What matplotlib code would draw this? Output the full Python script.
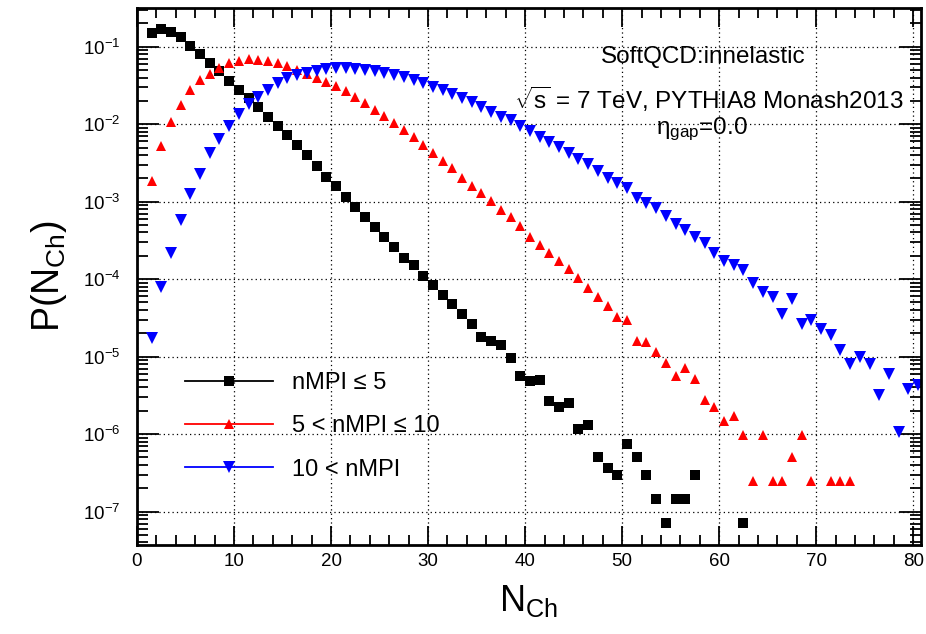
import numpy as np
import matplotlib
matplotlib.use('Agg')
import matplotlib.pyplot as plt
from matplotlib.lines import Line2D
from matplotlib.ticker import LogLocator, MultipleLocator, NullFormatter

plt.rcParams['font.family'] = ['Liberation Sans', 'DejaVu Sans']
plt.rcParams['mathtext.fontset'] = 'custom'
plt.rcParams['mathtext.rm'] = 'Liberation Sans'
plt.rcParams['mathtext.it'] = 'Liberation Sans:italic'
plt.rcParams['mathtext.sf'] = 'Liberation Sans'

## data: P(N_Ch) per bin (bin centres at N+0.5)
low_n = np.concatenate([np.arange(1, 58), [62]]) + 0.5
low_p = [0.149, 0.168, 0.156, 0.132, 0.102, 0.080, 0.061, 0.048, 0.036, 0.028,
         0.022, 0.0165, 0.0125, 0.0095, 0.0073, 0.0054, 0.0040, 0.0029, 0.0021, 0.00159,
         0.00115, 0.00085, 0.00063, 0.00047, 0.00035, 0.00026, 0.00019, 1.5e-4, 1.1e-4, 8.5e-5,
         6.3e-5, 4.8e-5, 3.6e-5, 2.6e-5, 1.8e-5, 1.6e-5, 1.4e-5, 9.6e-6, 5.6e-6, 4.8e-6,
         5.0e-6, 2.7e-6, 2.25e-6, 2.55e-6, 1.15e-6, 1.3e-6, 5.1e-7, 3.7e-7, 3.0e-7, 7.4e-7,
         5.1e-7, 3.0e-7, 1.45e-7, 7.2e-8, 1.45e-7, 1.45e-7, 3.0e-7,
         7.2e-8]

mid_n = np.concatenate([np.arange(1, 70), [71, 72, 73]]) + 0.5
mid_p = [1.86e-3, 5.2e-3, 0.0107, 0.0177, 0.0276, 0.037, 0.045, 0.053, 0.062, 0.065,
         0.069, 0.067, 0.065, 0.061, 0.056, 0.050, 0.044, 0.040, 0.0354, 0.031,
         0.027, 0.0223, 0.0187, 0.0153, 0.0128, 0.0105, 8.4e-3, 6.8e-3, 5.4e-3, 4.3e-3,
         3.37e-3, 2.7e-3, 2.05e-3, 1.58e-3, 1.28e-3, 1.02e-3, 7.9e-4, 6.3e-4, 4.8e-4, 3.55e-4,
         2.77e-4, 2.15e-4, 1.73e-4, 1.34e-4, 1.02e-4, 7.6e-5, 5.9e-5, 4.45e-5, 3.2e-5, 2.95e-5,
         1.6e-5, 1.55e-5, 1.15e-5, 8.2e-6, 5.7e-6, 7.2e-6, 5.2e-6, 2.74e-6, 2.24e-6, 1.48e-6,
         1.73e-6, 9.8e-7, 2.5e-7, 9.8e-7, 2.5e-7, 2.5e-7, 5.0e-7, 9.8e-7, 2.5e-7,
         2.5e-7, 2.5e-7, 2.5e-7]

high_n = np.arange(1, 81) + 0.5
high_p = [1.74e-5, 7.9e-5, 2.15e-4, 5.8e-4, 1.25e-3, 2.3e-3, 4.2e-3, 6.4e-3, 9.5e-3, 0.0136,
          0.018, 0.0227, 0.028, 0.0337, 0.039, 0.043, 0.0455, 0.0487, 0.051, 0.0527,
          0.0527, 0.0516, 0.050, 0.048, 0.046, 0.043, 0.0402, 0.037, 0.0337, 0.0305,
          0.0277, 0.0243, 0.022, 0.0195, 0.0168, 0.0145, 0.0125, 0.0114, 9.5e-3, 8.2e-3,
          6.9e-3, 5.9e-3, 5.1e-3, 4.2e-3, 3.6e-3, 3.1e-3, 2.47e-3, 2.0e-3, 1.73e-3, 1.49e-3,
          1.1e-3, 9.5e-4, 8.2e-4, 6.5e-4, 5.1e-4, 4.3e-4, 3.55e-4, 2.9e-4, 2.15e-4, 1.7e-4,
          1.52e-4, 1.31e-4, 9.0e-5, 6.9e-5, 5.9e-5, 3.6e-5, 5.5e-5, 2.6e-5, 3.0e-5, 2.3e-5,
          1.9e-5, 1.23e-5, 8.1e-6, 1.0e-5, 8.1e-6, 3.2e-6, 6.0e-6, 1.07e-6, 3.8e-6, 4.3e-6]

labels = ['nMPI ≤ 5', '5 < nMPI ≤ 10', '10 < nMPI']
colors = ['black', 'red', 'blue']
markers = ['s', '^', 'v']
msizes = [7.3, 7.8, 8.2]

fig = plt.figure(figsize=(9.26, 6.34), dpi=100)
ax = fig.add_axes([137/926, 1 - 545/634, (921 - 137)/926, (545 - 8)/634])

for xs, ys, c, m, s in zip([low_n, mid_n, high_n], [low_p, mid_p, high_p], colors, markers, msizes):
    ax.plot(xs, ys, linestyle='none', marker=m, color=c, markersize=s, markeredgewidth=0)

ax.set_yscale('log')
ax.set_xlim(0, 80.8)
ax.set_ylim(3.7e-8, 0.316)

ax.xaxis.set_major_locator(MultipleLocator(10))
ax.xaxis.set_minor_locator(MultipleLocator(2))
ax.yaxis.set_major_locator(LogLocator(base=10, numticks=20))
ax.yaxis.set_minor_locator(LogLocator(base=10, subs=np.arange(2, 10), numticks=20))
ax.yaxis.set_minor_formatter(NullFormatter())

ax.tick_params(which='both', direction='in', top=True, right=True, width=1.3, labelsize=13.5)
ax.tick_params(axis='x', which='major', length=14, pad=6)
ax.tick_params(axis='x', which='minor', length=7)
ax.tick_params(axis='y', which='major', length=16, pad=12)
ax.tick_params(axis='y', which='minor', length=8)
for sp in ax.spines.values():
    sp.set_linewidth(2)

ax.grid(True, which='major', color='black', linestyle=(0, (1, 2.5)), linewidth=0.9)

ax.set_xlabel(r'N$_{\mathregular{Ch}}$', fontsize=26, labelpad=9)
ax.set_ylabel(r'P(N$_{\mathregular{Ch}}$)', fontsize=27, labelpad=10)

ax.text(703/926, 1 - 57/634, 'SoftQCD:innelastic', transform=fig.transFigure,
        ha='center', va='center', fontsize=17.5)
ax.text(904/926, 1 - 99/634, r'$\sqrt{\mathregular{s}}$ = 7 TeV, PYTHIA8 Monash2013',
        transform=fig.transFigure, ha='right', va='center', fontsize=17.5)
ax.text(656/926, 1 - 129/634, r'η$_{\mathregular{gap}}$=0.0', transform=fig.transFigure,
        ha='left', va='center', fontsize=17.5)

handles = [Line2D([], [], color=c, marker=m, markersize=s, markeredgewidth=0, linewidth=1.3)
           for c, m, s in zip(colors, markers, msizes)]
ax.legend(handles, labels, loc='upper left', bbox_to_anchor=(164/926, 1 - 351/634),
          bbox_transform=fig.transFigure, frameon=False, fontsize=17,
          handlelength=3.7, handletextpad=0.8, labelspacing=0.9)

fig.savefig('out.png', dpi=100)
